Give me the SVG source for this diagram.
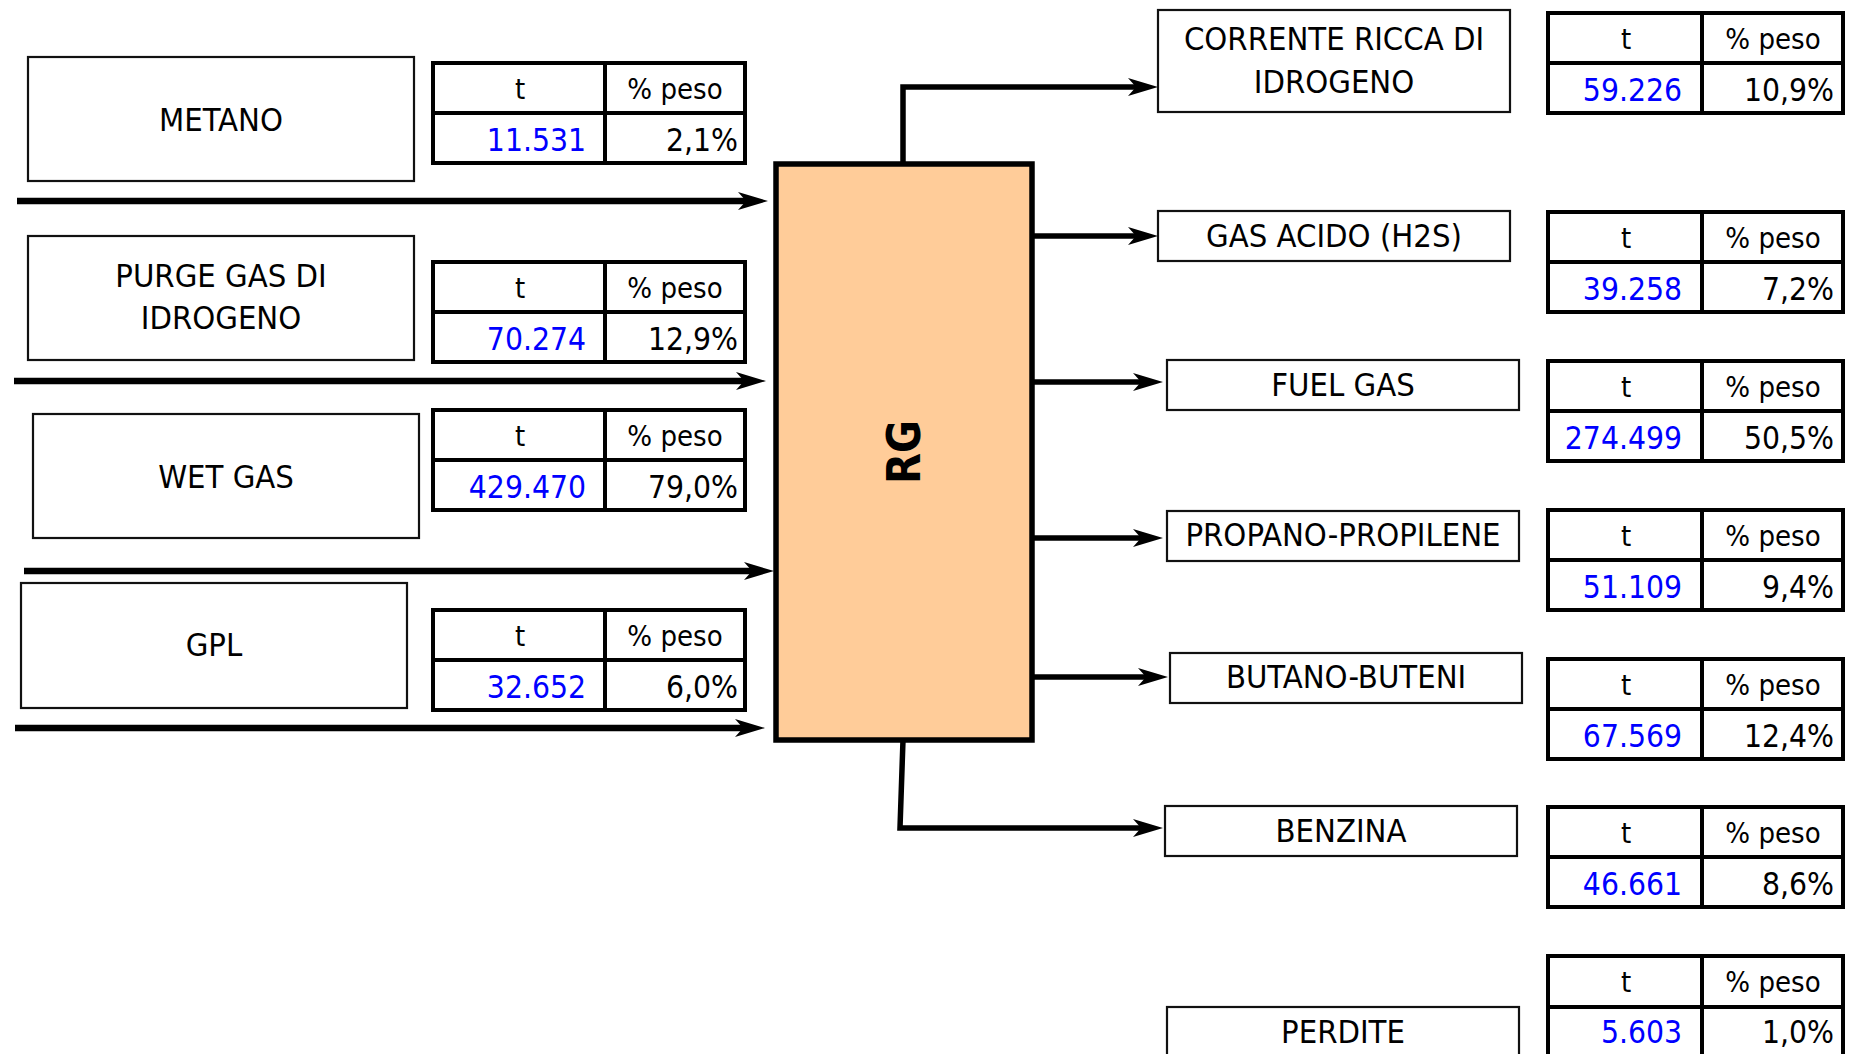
<svg xmlns="http://www.w3.org/2000/svg" width="1854" height="1054" viewBox="0 0 1854 1054">
<style>
text{font-family:'DejaVu Sans Condensed','Liberation Sans',sans-serif;fill:#000}
.lbl{font-size:32.5px;text-anchor:middle}
.hd{font-size:29px;text-anchor:middle}
.num{font-size:31.5px;text-anchor:end;fill:#0000FF}
.pct{font-size:31.5px;text-anchor:end}
.box{fill:#fff;stroke:#111;stroke-width:2.2}
.tb{fill:#fff;stroke:#000;stroke-width:4}
.tl{stroke:#000;stroke-width:4}
.arr{fill:none;stroke:#000;stroke-width:5.5;marker-end:url(#ah)}
.arl{stroke-width:6.5}
.rg{fill:#FFCC99;stroke:#000;stroke-width:5.5}
.rgt{font-family:'DejaVu Sans','Liberation Sans',sans-serif;font-weight:bold;font-size:46px;text-anchor:middle}
</style>
<defs>
<marker id="ah" markerUnits="userSpaceOnUse" viewBox="0 0 30 20" markerWidth="30" markerHeight="20" refX="10" refY="10" orient="auto">
<path d="M0,1 L30,10 L0,19 L8,10 Z" fill="#000"/>
</marker>
</defs>
<rect width="1854" height="1054" fill="#fff"/>

<g id="connectors">
<path class="arr arl" d="M17 201 H748"/>
<path class="arr arl" d="M14 381 H746"/>
<path class="arr arl" d="M24 571 H754"/>
<path class="arr arl" d="M15 728 H745"/>
<path class="arr" d="M903 162 V87 H1138"/>
<path class="arr" d="M1027 236 H1138"/>
<path class="arr" d="M1030 382 H1143"/>
<path class="arr" d="M1028 538 H1143"/>
<path class="arr" d="M1030 677 H1148"/>
<path class="arr" d="M903 740 L900 828 H1143"/>
</g>

<g id="rg">
<rect class="rg" x="776" y="164" width="256" height="576"/>
<text class="rgt" transform="translate(920,452) rotate(-90)" textLength="64" lengthAdjust="spacingAndGlyphs">RG</text>
</g>

<g id="metano">
<rect class="box" x="28" y="57" width="386" height="124"/>
<text class="lbl" x="221" y="131">METANO</text>
</g>
<g id="metano-tab" transform="translate(433,63)">
<rect class="tb" width="312" height="100"/>
<line class="tl" x1="0" y1="50" x2="312" y2="50"/><line class="tl" x1="172" y1="0" x2="172" y2="100"/>
<text class="hd" x="87" y="36">t</text><text class="hd" x="242" y="36">% peso</text>
<text class="num" x="153" y="88">11.531</text><text class="pct" x="305" y="88">2,1%</text>
</g>

<g id="purge">
<rect class="box" x="28" y="236" width="386" height="124"/>
<text class="lbl" x="221" y="287">PURGE GAS DI</text>
<text class="lbl" x="221" y="329">IDROGENO</text>
</g>
<g id="purge-tab" transform="translate(433,262)">
<rect class="tb" width="312" height="100"/>
<line class="tl" x1="0" y1="50" x2="312" y2="50"/><line class="tl" x1="172" y1="0" x2="172" y2="100"/>
<text class="hd" x="87" y="36">t</text><text class="hd" x="242" y="36">% peso</text>
<text class="num" x="153" y="88">70.274</text><text class="pct" x="305" y="88">12,9%</text>
</g>

<g id="wetgas">
<rect class="box" x="33" y="414" width="386" height="124"/>
<text class="lbl" x="226" y="488">WET GAS</text>
</g>
<g id="wetgas-tab" transform="translate(433,410)">
<rect class="tb" width="312" height="100"/>
<line class="tl" x1="0" y1="50" x2="312" y2="50"/><line class="tl" x1="172" y1="0" x2="172" y2="100"/>
<text class="hd" x="87" y="36">t</text><text class="hd" x="242" y="36">% peso</text>
<text class="num" x="153" y="88">429.470</text><text class="pct" x="305" y="88">79,0%</text>
</g>

<g id="gpl">
<rect class="box" x="21" y="583" width="386" height="125"/>
<text class="lbl" x="214" y="656">GPL</text>
</g>
<g id="gpl-tab" transform="translate(433,610)">
<rect class="tb" width="312" height="100"/>
<line class="tl" x1="0" y1="50" x2="312" y2="50"/><line class="tl" x1="172" y1="0" x2="172" y2="100"/>
<text class="hd" x="87" y="36">t</text><text class="hd" x="242" y="36">% peso</text>
<text class="num" x="153" y="88">32.652</text><text class="pct" x="305" y="88">6,0%</text>
</g>

<g id="corrente">
<rect class="box" x="1158" y="10" width="352" height="102"/>
<text class="lbl" x="1334" y="50">CORRENTE RICCA DI</text>
<text class="lbl" x="1334" y="93">IDROGENO</text>
</g>
<g id="corrente-tab" transform="translate(1548,13)">
<rect class="tb" width="295" height="100"/>
<line class="tl" x1="0" y1="50" x2="295" y2="50"/><line class="tl" x1="154" y1="0" x2="154" y2="100"/>
<text class="hd" x="78" y="36">t</text><text class="hd" x="225" y="36">% peso</text>
<text class="num" x="134" y="88">59.226</text><text class="pct" x="286" y="88">10,9%</text>
</g>

<g id="gasacido">
<rect class="box" x="1158" y="211" width="352" height="50"/>
<text class="lbl" x="1334" y="247">GAS ACIDO (H2S)</text>
</g>
<g id="gasacido-tab" transform="translate(1548,212)">
<rect class="tb" width="295" height="100"/>
<line class="tl" x1="0" y1="50" x2="295" y2="50"/><line class="tl" x1="154" y1="0" x2="154" y2="100"/>
<text class="hd" x="78" y="36">t</text><text class="hd" x="225" y="36">% peso</text>
<text class="num" x="134" y="88">39.258</text><text class="pct" x="286" y="88">7,2%</text>
</g>

<g id="fuelgas">
<rect class="box" x="1167" y="360" width="352" height="50"/>
<text class="lbl" x="1343" y="396">FUEL GAS</text>
</g>
<g id="fuelgas-tab" transform="translate(1548,361)">
<rect class="tb" width="295" height="100"/>
<line class="tl" x1="0" y1="50" x2="295" y2="50"/><line class="tl" x1="154" y1="0" x2="154" y2="100"/>
<text class="hd" x="78" y="36">t</text><text class="hd" x="225" y="36">% peso</text>
<text class="num" x="134" y="88">274.499</text><text class="pct" x="286" y="88">50,5%</text>
</g>

<g id="propano">
<rect class="box" x="1167" y="511" width="352" height="50"/>
<text class="lbl" x="1343" y="546">PROPANO-PROPILENE</text>
</g>
<g id="propano-tab" transform="translate(1548,510)">
<rect class="tb" width="295" height="100"/>
<line class="tl" x1="0" y1="50" x2="295" y2="50"/><line class="tl" x1="154" y1="0" x2="154" y2="100"/>
<text class="hd" x="78" y="36">t</text><text class="hd" x="225" y="36">% peso</text>
<text class="num" x="134" y="88">51.109</text><text class="pct" x="286" y="88">9,4%</text>
</g>

<g id="butano">
<rect class="box" x="1170" y="653" width="352" height="50"/>
<text class="lbl" x="1346" y="688">BUTANO-BUTENI</text>
</g>
<g id="butano-tab" transform="translate(1548,659)">
<rect class="tb" width="295" height="100"/>
<line class="tl" x1="0" y1="50" x2="295" y2="50"/><line class="tl" x1="154" y1="0" x2="154" y2="100"/>
<text class="hd" x="78" y="36">t</text><text class="hd" x="225" y="36">% peso</text>
<text class="num" x="134" y="88">67.569</text><text class="pct" x="286" y="88">12,4%</text>
</g>

<g id="benzina">
<rect class="box" x="1165" y="806" width="352" height="50"/>
<text class="lbl" x="1341" y="842">BENZINA</text>
</g>
<g id="benzina-tab" transform="translate(1548,807)">
<rect class="tb" width="295" height="100"/>
<line class="tl" x1="0" y1="50" x2="295" y2="50"/><line class="tl" x1="154" y1="0" x2="154" y2="100"/>
<text class="hd" x="78" y="36">t</text><text class="hd" x="225" y="36">% peso</text>
<text class="num" x="134" y="88">46.661</text><text class="pct" x="286" y="88">8,6%</text>
</g>

<g id="perdite">
<rect class="box" x="1167" y="1007" width="352" height="52"/>
<text class="lbl" x="1343" y="1043">PERDITE</text>
</g>
<g id="perdite-tab" transform="translate(1548,956)">
<rect class="tb" width="295" height="102"/>
<line class="tl" x1="0" y1="51" x2="295" y2="51"/><line class="tl" x1="154" y1="0" x2="154" y2="102"/>
<text class="hd" x="78" y="36">t</text><text class="hd" x="225" y="36">% peso</text>
<text class="num" x="134" y="87">5.603</text><text class="pct" x="286" y="87">1,0%</text>
</g>
</svg>
